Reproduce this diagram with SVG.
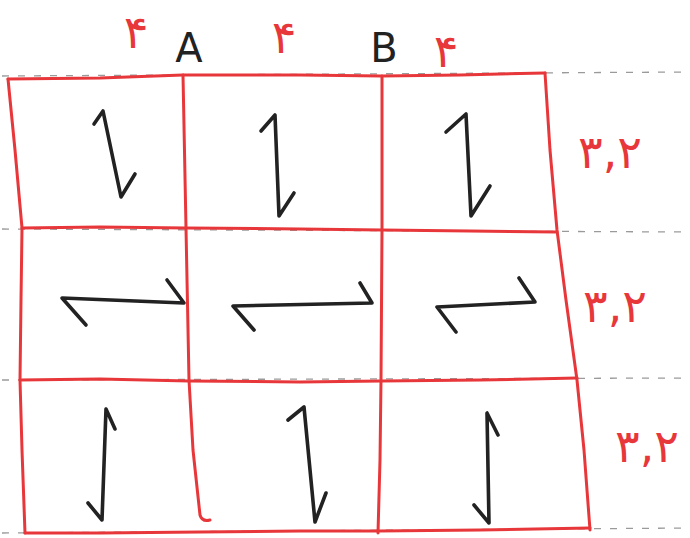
<svg xmlns="http://www.w3.org/2000/svg" width="690" height="538" viewBox="0 0 690 538">
<style>
.rule{stroke:#9a9a9a;stroke-width:1.3;stroke-dasharray:7 9;fill:none}
.grid{stroke:#e8373a;stroke-width:3;fill:none;stroke-linecap:round;stroke-linejoin:round}
.arr{stroke:#222;stroke-width:3.6;fill:none;stroke-linecap:round;stroke-linejoin:round}
.red{fill:#e8373a;font-family:"DejaVu Sans",sans-serif;font-size:46px;text-anchor:middle}
.blk{fill:#222;font-family:"DejaVu Sans",sans-serif;font-size:40px;text-anchor:middle}
</style>
<rect width="690" height="538" fill="#fff"/>
<g id="rules">
<path class="rule" d="M2,76 L690,72"/>
<path class="rule" d="M2,229 L690,232"/>
<path class="rule" d="M2,380 L690,378"/>
<path class="rule" d="M2,533 L690,528"/>
</g>
<g id="grid">
<path class="grid" d="M8,79 L100,78 L183,75 L300,75 L382,76 L460,75 L545,73"/>
<path class="grid" d="M8,79 L15,150 L22,228 L21,300 L20,380 L22,450 L25,533"/>
<path class="grid" d="M183,75 L186,228 L189,380 L193,450 L200,515 Q202,522 210,520"/>
<path class="grid" d="M382,76 L382,230 L381,380 L380,460 L378,533"/>
<path class="grid" d="M545,73 L550,150 L557,230 L566,300 L577,380 L584,450 L590,530"/>
<path class="grid" d="M22,228 L100,227 L186,228 L300,229 L382,230 L470,231 L557,232"/>
<path class="grid" d="M20,380 L100,379 L189,381 L300,382 L381,381 L480,380 L577,378"/>
<path class="grid" d="M25,533 L100,533 L200,532 L300,531 L378,531 L480,530 L590,528"/>
</g>
<g id="arrows">
<path class="arr" d="M94,124 L103,111 L121,197 L135,174"/>
<path class="arr" d="M261,131 L275,115 L279,216 L294,193"/>
<path class="arr" d="M446,132 L466,114 L471,216 L490,186"/>
<path class="arr" d="M86,325 L62,298 L184,303 L167,280"/>
<path class="arr" d="M254,330 L233,306 L372,303 L360,283"/>
<path class="arr" d="M456,332 L437,307 L535,302 L519,278"/>
<path class="arr" d="M115,429 L106,409 L102,520 L88,503"/>
<path class="arr" d="M288,420 L304,407 L315,522 L326,493"/>
<path class="arr" d="M498,435 L487,413 L489,523 L474,505"/>
</g>
<g id="labels">
<text class="red" x="136" y="48">۴</text>
<text class="blk" x="189" y="62">A</text>
<text class="red" x="284" y="53">۴</text>
<text class="blk" x="384" y="62">B</text>
<text class="red" x="446" y="67">۴</text>
<text class="red" x="610" y="168">۳,۲</text>
<text class="red" x="615" y="322">۳,۲</text>
<text class="red" x="647" y="462">۳,۲</text>
</g>
</svg>
